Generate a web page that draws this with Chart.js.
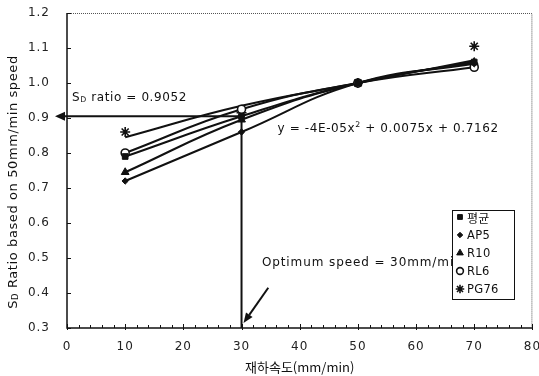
<!DOCTYPE html>
<html>
<head>
<meta charset="utf-8">
<script src="https://cdn.jsdelivr.net/npm/chart.js@4.4.1/dist/chart.umd.min.js"></script>
<style>
  html, body { margin: 0; padding: 0; background: #fff; }
  #wrap { width: 539px; height: 376px; }
</style>
</head>
<body>
<div id="wrap"><canvas id="speedChart"></canvas></div>
<script>
// loading speed (mm/min) and S_D ratio relative to the 50 mm/min result
const speeds = [10, 30, 50, 70];
const avgRatio  = [0.79, 0.905, 1.00, 1.06];
const ap5Ratio  = [0.72, 0.86, 1.00, 1.055];
const r10Ratio  = [0.745, 0.895, 1.00, 1.06];
const rl6Ratio  = [0.80, 0.925, 1.00, 1.045];
const pg76Ratio = [0.86, 0.915, 1.00, 1.105];
// PG76 trend curve read at the same speeds (it passes below the 70 mm/min point)
const pg76Trend = [0.845, 0.935, 1.00, 1.065];
const seriesNames = ['평균', 'AP5', 'R10', 'RL6', 'PG76'];

const xTicks = [0, 10, 20, 30, 40, 50, 60, 70, 80];
const yTicks = [0.3, 0.4, 0.5, 0.6, 0.7, 0.8, 0.9, 1.0, 1.1, 1.2];

// optimum point from the fitted curve of the average
const optimumSpeed = 30;
const optimumRatio = 0.9052;
const fitText = ['y = -4E-05x', '2', ' + 0.0075x + 0.7162'];

const FONT = '"DejaVu Sans", "Liberation Sans", sans-serif';
const INK = '#111';

const markers = [
  { style: 'rect',    radius: 4,   fill: INK,    width: 1 },
  { style: 'rectRot', radius: 3.2, fill: INK,    width: 1 },
  { style: 'triangle',radius: 4.5, fill: INK,    width: 1 },
  { style: 'circle',  radius: 4,   fill: '#fff', width: 1.6 },
  { style: 'star',    radius: 5,   fill: INK,    width: 1.6 }
];
const pointData = [avgRatio, ap5Ratio, r10Ratio, rl6Ratio, pg76Ratio];
const curveData = [avgRatio, ap5Ratio, r10Ratio, rl6Ratio, pg76Trend];

function arrow(ctx, x1, y1, x2, y2, len, half) {
  const ang = Math.atan2(y2 - y1, x2 - x1);
  const bx = x2 - Math.cos(ang) * len, by = y2 - Math.sin(ang) * len;
  ctx.beginPath();
  ctx.moveTo(x1, y1);
  ctx.lineTo(bx, by);
  ctx.stroke();
  ctx.beginPath();
  ctx.moveTo(x2, y2);
  ctx.lineTo(bx + Math.sin(ang) * half, by - Math.cos(ang) * half);
  ctx.lineTo(bx - Math.sin(ang) * half, by + Math.cos(ang) * half);
  ctx.closePath();
  ctx.fill();
}

// text with a smaller lowered/raised piece in the middle
function mixedText(ctx, parts, x, y, size) {
  let cx = x;
  parts.forEach(p => {
    ctx.font = (p.small ? size * 0.65 : size) + 'px ' + FONT;
    ctx.fillText(p.t, cx, y + (p.shift || 0));
    cx += ctx.measureText(p.t).width;
  });
}

const decorations = {
  id: 'decorations',
  beforeDraw(chart) {
    chart.ctx.letterSpacing = '1px';
  },
  afterDatasetsDraw(chart) {
    const { ctx, chartArea: a, scales: { x, y } } = chart;
    ctx.save();
    ctx.letterSpacing = '0.6px';
    ctx.strokeStyle = INK;
    ctx.fillStyle = INK;

    // frame: solid left/bottom axes, dotted top/right
    ctx.lineWidth = 1.5;
    ctx.beginPath();
    ctx.moveTo(a.left, a.top);
    ctx.lineTo(a.left, a.bottom);
    ctx.lineTo(a.right, a.bottom);
    ctx.stroke();
    ctx.lineWidth = 1;
    ctx.strokeStyle = '#555';
    ctx.setLineDash([1, 1]);
    ctx.beginPath();
    ctx.moveTo(a.left, a.top + 0.5);
    ctx.lineTo(a.right - 0.5, a.top + 0.5);
    ctx.lineTo(a.right - 0.5, a.bottom);
    ctx.stroke();
    ctx.setLineDash([]);
    ctx.strokeStyle = INK;

    // axis ticks
    ctx.lineWidth = 1;
    ctx.beginPath();
    for (let v = 0; v <= 80; v += 2) {
      const px = Math.round(x.getPixelForValue(v)) + 0.5;
      const major = v % 10 === 0;
      ctx.moveTo(px, a.bottom - (major ? 4 : 3));
      ctx.lineTo(px, a.bottom + (major ? 2 : 0));
    }
    yTicks.forEach(v => {
      const py = Math.round(y.getPixelForValue(v)) + 0.5;
      ctx.moveTo(a.left, py);
      ctx.lineTo(a.left + 4, py);
    });
    ctx.stroke();

    // optimum point guides
    const ox = x.getPixelForValue(optimumSpeed);
    const oy = y.getPixelForValue(optimumRatio);
    ctx.lineWidth = 2;
    arrow(ctx, ox, oy, a.left - 12, oy, 10, 4.5);
    ctx.beginPath();
    ctx.moveTo(ox, oy);
    ctx.lineTo(ox, a.bottom);
    ctx.stroke();
    arrow(ctx, x.getPixelForValue(34.6), y.getPixelForValue(0.415),
          ox + 2, a.bottom - 5, 10, 4);

    // annotation text
    ctx.textBaseline = 'alphabetic';
    ctx.textAlign = 'left';
    mixedText(ctx, [
      { t: 'S' }, { t: 'D', small: true, shift: 1 },
      { t: ' ratio = ' + optimumRatio }
    ], a.left + 5, oy - 15, 12);
    mixedText(ctx, [
      { t: fitText[0] }, { t: fitText[1], small: true, shift: -5 },
      { t: fitText[2] }
    ], x.getPixelForValue(36.2), y.getPixelForValue(0.86), 12);
    ctx.letterSpacing = '0.9px';
    mixedText(ctx, [{ t: 'Optimum speed = ' + optimumSpeed + 'mm/min' }],
      x.getPixelForValue(33.5), y.getPixelForValue(0.477), 12);

    // legend box
    const lx = 452, ly = 210, lw = 62, lh = 89;
    ctx.fillStyle = '#fff';
    ctx.fillRect(lx, ly, lw, lh);
    ctx.lineWidth = 1;
    ctx.strokeRect(lx + 0.5, ly + 0.5, lw, lh);
    ctx.textBaseline = 'middle';
    ctx.letterSpacing = '0.3px';
    seriesNames.forEach((name, i) => {
      const cy = ly + 7 + i * 18;
      const m = markers[i];
      ctx.fillStyle = m.fill;
      ctx.strokeStyle = INK;
      ctx.lineWidth = m.width;
      Chart.helpers.drawPoint(ctx, {
        pointStyle: m.style, radius: m.radius * 0.85, rotation: 0, borderWidth: m.width
      }, lx + 8, cy);
      ctx.fillStyle = INK;
      ctx.font = (i === 0 ? '12px "Noto Sans CJK KR", sans-serif' : '11.5px ' + FONT);
      ctx.fillText(name, lx + 15, cy + 1);
    });

    // axis titles
    ctx.textBaseline = 'alphabetic';
    ctx.font = '13px "Noto Sans CJK KR", sans-serif';
    ctx.textAlign = 'center';
    ctx.letterSpacing = '0px';
    ctx.fillText('재하속도(mm/min)', (a.left + a.right) / 2, 372);

    ctx.save();
    ctx.translate(17, 182);
    ctx.rotate(-Math.PI / 2);
    ctx.letterSpacing = '0.6px';
    const parts = [
      { t: 'S' }, { t: 'D', small: true, shift: 1 },
      { t: ' Ratio based on 50mm/min speed' }
    ];
    let total = 0;
    parts.forEach(p => {
      ctx.font = (p.small ? 13 * 0.65 : 13) + 'px ' + FONT;
      total += ctx.measureText(p.t).width;
    });
    ctx.textAlign = 'left';
    mixedText(ctx, parts, -total / 2, 0, 13);
    ctx.restore();

    ctx.restore();
  }
};

// smooth curves first, then the measured points on top
const curveSets = seriesNames.map((name, i) => ({
  label: name + ' curve',
  data: speeds.map((s, j) => ({ x: s, y: curveData[i][j] })),
  borderColor: INK,
  borderWidth: 2,
  tension: 0.45,
  pointRadius: 0,
  order: 2
}));
const pointSets = seriesNames.map((name, i) => ({
  label: name,
  data: speeds.map((s, j) => ({ x: s, y: pointData[i][j] })),
  showLine: false,
  pointStyle: markers[i].style,
  pointRadius: markers[i].radius,
  pointBackgroundColor: markers[i].fill,
  pointBorderColor: INK,
  pointBorderWidth: markers[i].width,
  order: 1
}));

new Chart(document.getElementById('speedChart'), {
  type: 'line',
  data: { datasets: [...curveSets, ...pointSets] },
  options: {
    responsive: true,
    maintainAspectRatio: false,
    animation: false,
    layout: { padding: { top: 13, right: 6, left: 0, bottom: 0 } },
    plugins: {
      legend: { display: false },
      tooltip: { enabled: false }
    },
    scales: {
      x: {
        type: 'linear',
        min: xTicks[0],
        max: xTicks[xTicks.length - 1],
        afterBuildTicks: s => { s.ticks = xTicks.map(v => ({ value: v })); },
        afterFit: s => { s.height = 48; s.paddingLeft = 0; s.paddingRight = 0; },
        grid: { display: false, drawTicks: false },
        border: { display: false },
        ticks: {
          padding: 12,
          color: '#222',
          font: { family: FONT, size: 12 },
          maxRotation: 0
        }
      },
      y: {
        min: yTicks[0],
        max: yTicks[yTicks.length - 1],
        afterBuildTicks: s => { s.ticks = yTicks.map(v => ({ value: v })); },
        afterFit: s => { s.width = 67; s.paddingTop = 0; s.paddingBottom = 0; },
        grid: { display: false, drawTicks: false },
        border: { display: false },
        ticks: {
          padding: 17,
          color: '#222',
          font: { family: FONT, size: 12 },
          callback: v => v.toFixed(1)
        }
      }
    }
  },
  plugins: [decorations]
});
</script>
</body>
</html>
